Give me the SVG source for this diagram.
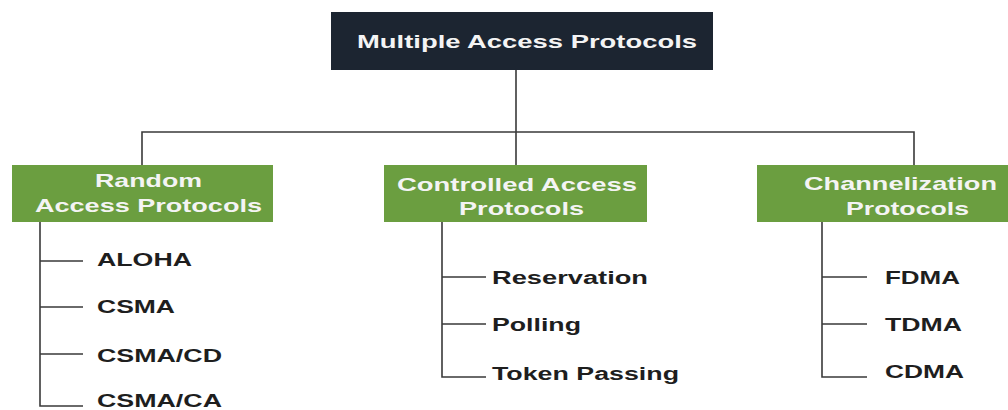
<svg xmlns="http://www.w3.org/2000/svg" width="1008" height="410" viewBox="0 0 1008 410">
<style>
.root{fill:#1c2531}
.cat{fill:#6b9e40}
.hd{font-family:"Liberation Sans",Arial,sans-serif;font-weight:bold;font-size:19px;fill:#f4f4f4}
.lf{font-family:"Liberation Sans",Arial,sans-serif;font-weight:bold;font-size:18px;fill:#1e1e1e}
.ln{fill:none;stroke:#3a3a3a;stroke-width:1.6}
</style>
<rect width="1008" height="410" fill="#ffffff"/>
<g id="connectors">
<path class="ln" d="M516 70 V132 M142 165 V132 H914 V165 M516 132 V165"/>
<path class="ln" d="M40 222 V406 H83 M40 261 H83 M40 307 H83 M40 354 H83"/>
<path class="ln" d="M442 222 V377 H486 M442 277 H486 M442 324 H486"/>
<path class="ln" d="M822 222 V377 H867 M822 277 H867 M822 324 H867"/>
</g>
<g id="root">
<rect class="root" x="331" y="12" width="382" height="58"/>
<text class="hd" x="357" y="48" textLength="340" lengthAdjust="spacingAndGlyphs">Multiple Access Protocols</text>
</g>
<g id="random">
<rect class="cat" x="12" y="165" width="261" height="57"/>
<text class="hd" x="95" y="187" textLength="107" lengthAdjust="spacingAndGlyphs">Random</text>
<text class="hd" x="35" y="212" textLength="227" lengthAdjust="spacingAndGlyphs">Access Protocols</text>
</g>
<g id="controlled">
<rect class="cat" x="384" y="165" width="263" height="57"/>
<text class="hd" x="397" y="191" textLength="240" lengthAdjust="spacingAndGlyphs">Controlled Access</text>
<text class="hd" x="459" y="215" textLength="125" lengthAdjust="spacingAndGlyphs">Protocols</text>
</g>
<g id="channel">
<rect class="cat" x="757" y="165" width="251" height="57"/>
<text class="hd" x="804" y="190" textLength="193" lengthAdjust="spacingAndGlyphs">Channelization</text>
<text class="hd" x="846" y="215" textLength="123" lengthAdjust="spacingAndGlyphs">Protocols</text>
</g>
<g id="aloha"><text class="lf" x="97" y="266" textLength="95" lengthAdjust="spacingAndGlyphs">ALOHA</text></g>
<g id="csma"><text class="lf" x="97" y="313" textLength="78" lengthAdjust="spacingAndGlyphs">CSMA</text></g>
<g id="csmacd"><text class="lf" x="97" y="362" textLength="125" lengthAdjust="spacingAndGlyphs">CSMA/CD</text></g>
<g id="csmaca"><text class="lf" x="97" y="407" textLength="125" lengthAdjust="spacingAndGlyphs">CSMA/CA</text></g>
<g id="reservation"><text class="lf" x="492" y="284" textLength="156" lengthAdjust="spacingAndGlyphs">Reservation</text></g>
<g id="polling"><text class="lf" x="492" y="331" textLength="89" lengthAdjust="spacingAndGlyphs">Polling</text></g>
<g id="token"><text class="lf" x="492" y="380" textLength="187" lengthAdjust="spacingAndGlyphs">Token Passing</text></g>
<g id="fdma"><text class="lf" x="885" y="284" textLength="75" lengthAdjust="spacingAndGlyphs">FDMA</text></g>
<g id="tdma"><text class="lf" x="885" y="331" textLength="77" lengthAdjust="spacingAndGlyphs">TDMA</text></g>
<g id="cdma"><text class="lf" x="885" y="378" textLength="79" lengthAdjust="spacingAndGlyphs">CDMA</text></g>
</svg>
